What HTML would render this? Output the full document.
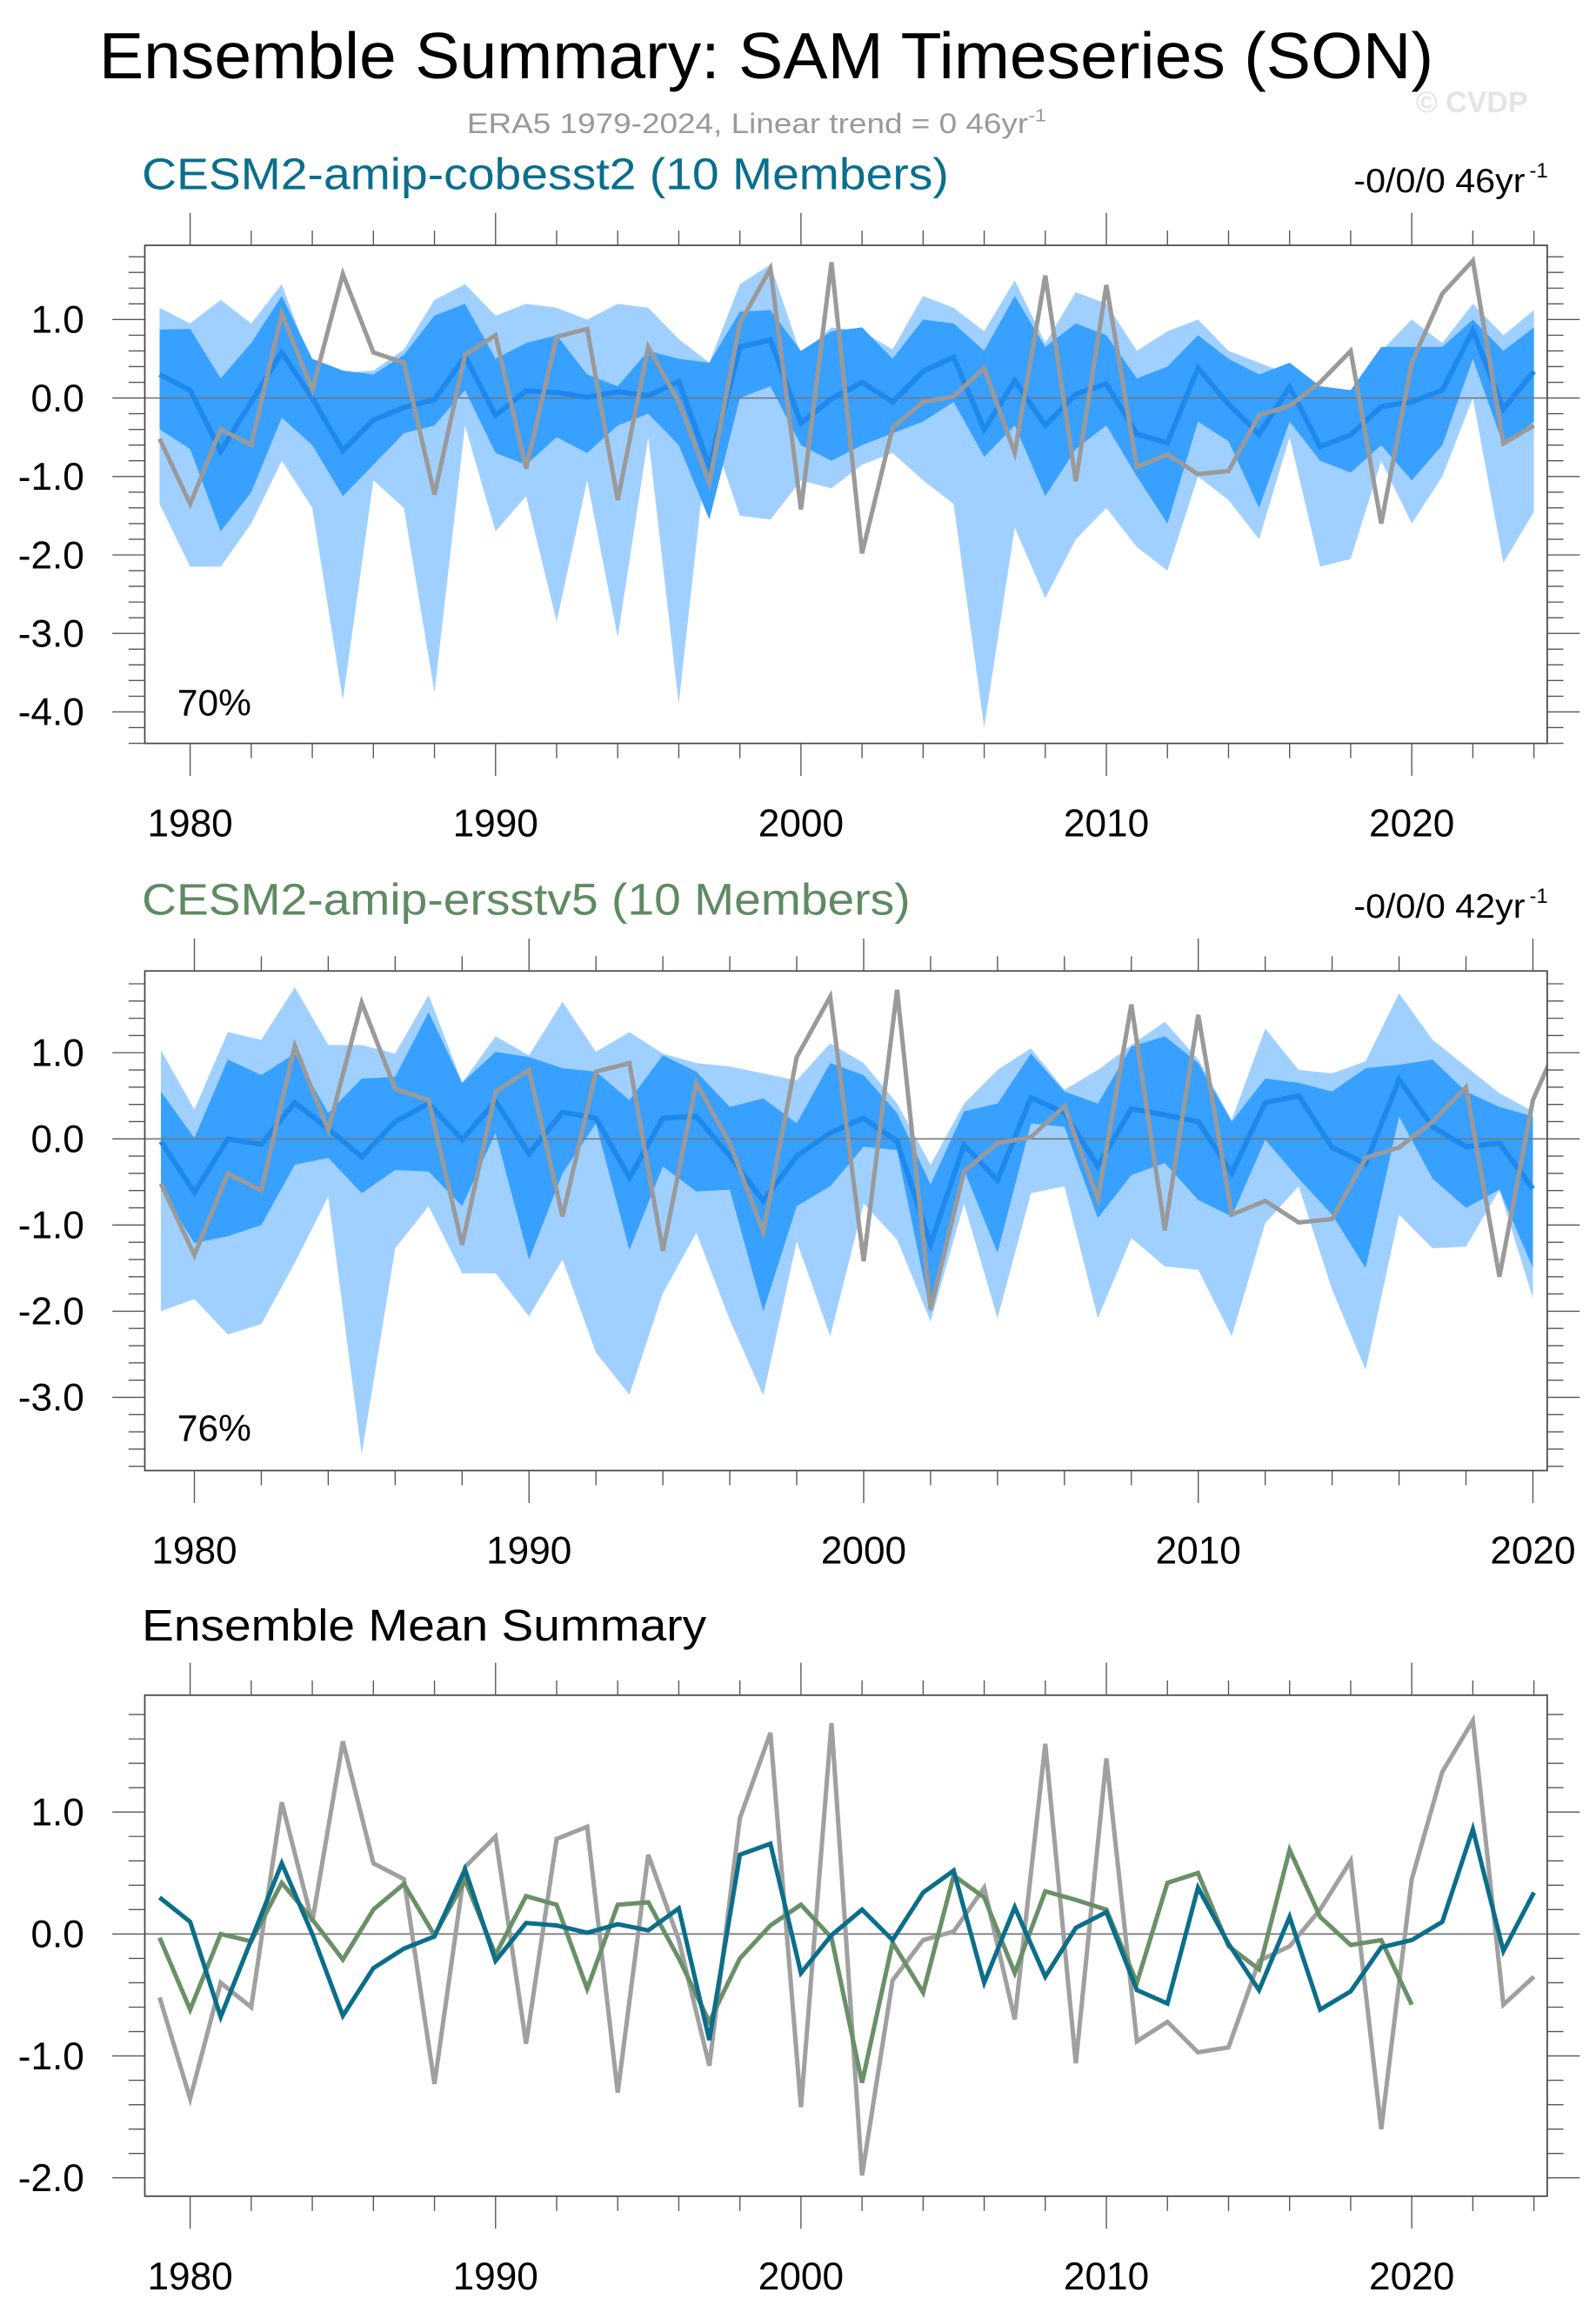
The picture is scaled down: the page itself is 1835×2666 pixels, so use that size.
<!DOCTYPE html>
<html><head><meta charset="utf-8">
<style>
html,body{margin:0;padding:0;background:#fff;}
svg{display:block;}
text{font-family:"Liberation Sans",Arial,sans-serif;}
</style></head>
<body>
<svg id="fig" xmlns="http://www.w3.org/2000/svg" width="1835" height="2666" viewBox="0 0 1080 1569.1" preserveAspectRatio="none">
<text x="67" y="53" font-size="44" textLength="903" lengthAdjust="spacingAndGlyphs">Ensemble Summary: SAM Timeseries (SON)</text>
<text x="316" y="90" font-size="19" fill="#999" textLength="392" lengthAdjust="spacingAndGlyphs">ERA5 1979-2024, Linear trend = 0 46yr<tspan dy="-8" font-size="12">-1</tspan></text>
<text x="958" y="76" font-size="20" font-weight="bold" fill="#e4e4e4">© CVDP</text>
<text x="96" y="128" font-size="30" fill="#0a6e8c" textLength="546" lengthAdjust="spacingAndGlyphs">CESM2-amip-cobesst2 (10 Members)</text>
<text x="916" y="130" font-size="23" textLength="116" lengthAdjust="spacingAndGlyphs">-0/0/0 46yr</text>
<text x="1035" y="120" font-size="14">-1</text>
<text x="96" y="619" font-size="30" fill="#5f8a62" textLength="520" lengthAdjust="spacingAndGlyphs">CESM2-amip-ersstv5 (10 Members)</text>
<text x="916" y="621" font-size="23" textLength="116" lengthAdjust="spacingAndGlyphs">-0/0/0 42yr</text>
<text x="1035" y="611" font-size="14">-1</text>
<text x="96" y="1110" font-size="30" textLength="382" lengthAdjust="spacingAndGlyphs">Ensemble Mean Summary</text>
</svg>
<script>
// ---- data ----
const yearsA = [1979,1980,1981,1982,1983,1984,1985,1986,1987,1988,1989,1990,1991,1992,1993,1994,1995,1996,1997,1998,1999,2000,2001,2002,2003,2004,2005,2006,2007,2008,2009,2010,2011,2012,2013,2014,2015,2016,2017,2018,2019,2020,2021,2022,2023,2024];
const yearsB = yearsA.slice(0,42);
const era5 = [-0.52,-1.35,-0.4,-0.6,1.08,0.1,1.58,0.58,0.45,-1.23,0.55,0.8,-0.9,0.78,0.88,-1.3,0.65,-0.05,-1.08,0.95,1.65,-1.42,1.73,-1.98,-0.38,-0.05,0.02,0.38,-0.7,1.56,-1.06,1.44,-0.88,-0.72,-0.97,-0.93,-0.22,-0.1,0.2,0.6,-1.6,0.45,1.33,1.75,-0.58,-0.35];
const meanA = [0.3,0.1,-0.68,-0.05,0.58,0.0,-0.67,-0.28,-0.12,-0.02,0.53,-0.22,0.09,0.07,0.01,0.08,0.03,0.21,-0.87,0.65,0.74,-0.32,-0.01,0.2,-0.05,0.34,0.52,-0.4,0.22,-0.35,0.05,0.18,-0.46,-0.57,0.38,-0.08,-0.46,0.14,-0.62,-0.47,-0.11,-0.05,0.1,0.86,-0.14,0.34];
const meanB = [-0.03,-0.62,0.0,-0.06,0.42,0.12,-0.21,0.2,0.41,-0.01,0.44,-0.17,0.31,0.24,-0.45,0.24,0.26,-0.2,-0.72,-0.2,0.07,0.24,-0.03,-1.22,-0.07,-0.48,0.48,0.3,-0.32,0.35,0.28,0.2,-0.4,0.42,0.5,-0.1,-0.29,0.69,0.14,-0.09,-0.05,-0.58];
const maxA = [1.15,0.95,1.25,0.95,1.45,0.4,0.32,0.35,0.62,1.25,1.45,1.05,1.2,1.15,1.0,1.2,1.15,0.75,0.45,1.45,1.7,0.55,0.9,0.85,0.62,1.3,1.15,0.85,1.5,0.7,1.35,1.2,0.6,0.85,1.0,0.6,0.45,0.3,0.15,0.0,0.6,1.0,0.7,1.2,0.8,1.12];
const hiA = [0.87,0.88,0.25,0.7,1.3,0.5,0.35,0.3,0.55,1.05,1.2,0.5,0.7,0.8,0.3,0.15,0.6,0.5,0.45,1.1,1.12,0.6,0.85,0.9,0.5,1.0,0.95,0.6,1.3,0.65,0.95,0.8,0.25,0.4,0.8,0.5,0.3,0.45,0.15,0.1,0.65,0.65,0.65,1.0,0.6,0.9];
const loA = [-0.4,-0.65,-1.7,-1.2,-0.25,-0.6,-1.25,-0.85,-0.45,-0.35,0.1,-0.7,-0.85,-0.5,-0.7,-0.35,-0.2,-0.6,-1.55,0.0,0.15,-0.6,-0.8,-0.6,-0.45,-0.3,-0.05,-0.75,-0.35,-1.25,-0.65,-0.35,-1.0,-1.6,-0.3,-0.55,-1.4,-0.3,-0.8,-0.95,-0.6,-1.05,-0.6,0.5,-0.6,-0.3];
const minA = [-1.35,-2.15,-2.15,-1.6,-0.8,-1.4,-3.85,-1.05,-1.4,-3.75,-0.35,-1.7,-1.25,-2.85,-1.05,-3.05,-0.5,-3.9,-0.35,-1.5,-1.55,-1.05,-1.15,-0.85,-0.7,-1.05,-1.35,-4.2,-1.65,-2.55,-1.8,-1.4,-1.9,-2.2,-1.0,-1.3,-1.8,-0.5,-2.15,-2.05,-0.8,-1.6,-1.0,0.0,-2.1,-1.45];
const maxB = [1.03,0.34,1.24,1.15,1.76,1.09,1.09,0.99,1.67,0.65,1.19,0.97,1.59,1.01,1.24,0.99,0.88,0.84,0.76,0.68,1.11,0.88,0.41,-0.3,0.41,0.8,1.05,0.57,0.8,1.09,1.36,0.92,0.22,1.28,0.8,0.76,0.9,1.69,1.15,0.84,0.53,0.32];
const hiB = [0.55,0.01,0.92,0.74,0.99,0.3,0.7,0.72,1.47,0.65,1.01,0.95,0.82,0.78,0.45,0.97,0.78,0.37,0.47,0.18,0.88,0.74,0.3,-0.53,0.32,0.41,0.99,0.55,0.41,1.07,1.19,0.88,0.2,0.7,0.65,0.55,0.82,0.86,0.92,0.55,0.37,0.26];
const loB = [-0.59,-1.21,-1.13,-1.0,-0.3,-0.22,-0.63,-0.36,-0.38,-0.78,0.07,-1.4,-0.4,0.18,-1.29,-0.32,-0.61,-0.59,-2.0,-0.78,-0.55,-0.09,-0.13,-2.02,-0.36,-1.32,0.18,0.14,-0.92,-0.42,-0.28,-0.71,-0.9,-0.01,-0.46,-0.88,-1.5,0.26,-0.46,-0.8,-0.59,-1.5];
const minB = [-2.0,-1.86,-2.27,-2.15,-1.44,-0.67,-3.66,-1.27,-0.78,-1.56,-1.56,-2.06,-1.4,-2.48,-2.97,-1.79,-1.09,-2.1,-2.98,-1.19,-2.29,-0.75,-1.17,-2.12,-0.75,-2.08,-0.63,-0.55,-2.08,-1.15,-1.48,-1.52,-2.29,-0.98,-0.55,-1.75,-2.68,-0.88,-1.27,-1.25,-0.59,-1.85];
const xTicks = [1980,1990,2000,2010,2020];
const yTicks1 = [1,0,-1,-2,-3,-4];
const yTicks2 = [1,0,-1,-2,-3];
const yTicks3 = [1,0,-1,-2];

const NS = "http://www.w3.org/2000/svg";
const svg = document.getElementById('fig');
function mk(tag, attrs, parent){
  const e = document.createElementNS(NS, tag);
  for (const k in attrs) e.setAttribute(k, attrs[k]);
  (parent||svg).appendChild(e);
  return e;
}
function panel(cfg){
  const g = mk('g', {});
  
  
  const xs = y => cfg.x0 + (y - cfg.y0yr) * (cfg.x1 - cfg.x0) / (cfg.y1yr - cfg.y0yr);
  const ys = v => cfg.zero - v * cfg.unit;
  const cid = 'clip-' + cfg.name;
  const cp = mk('clipPath', {id: cid}, g);
  mk('rect', {x: cfg.L, y: cfg.T, width: cfg.R - cfg.L, height: cfg.B - cfg.T}, cp);
  const inner = mk('g', {'clip-path': 'url(#' + cid + ')'}, g);
  function band(yrs, up, lo, color, name){
    let d = '';
    yrs.forEach((y,i)=>{ d += (i?'L':'M') + xs(y).toFixed(2) + ' ' + ys(up[i]).toFixed(2); });
    for (let i = yrs.length-1; i >= 0; i--) d += 'L' + xs(yrs[i]).toFixed(2) + ' ' + ys(lo[i]).toFixed(2);
    const p = mk('path', {d: d + 'Z', fill: color}, inner);
    
    
  }
  function line(yrs, vals, color, w, name){
    const pts = yrs.map((y,i)=> xs(y).toFixed(2) + ',' + ys(vals[i]).toFixed(2)).join(' ');
    const p = mk('polyline', {points: pts, fill: 'none', stroke: color, 'stroke-width': w, 'stroke-linejoin': 'miter'}, inner);
    
    
  }
  (cfg.bands||[]).forEach(b => band(cfg.yrs, b[0], b[1], b[2], b[3]));
  const zl = mk('line', {x1: cfg.L, x2: cfg.R, y1: ys(0), y2: ys(0), stroke: '#777', 'stroke-width': 1}, inner);
  
  
  (cfg.lines||[]).forEach(l => line(l[0], l[1], l[2], l[3], l[4]));
  const box = mk('rect', {x: cfg.L, y: cfg.T, width: cfg.R - cfg.L, height: cfg.B - cfg.T, fill: 'none', stroke: '#444', 'stroke-width': 1}, g);
  
  
  for (let yr = 1980; yr <= cfg.tickMax; yr += 2) {
    const x = xs(yr);
    if (x > cfg.R + 1) continue;
    const major = yr % 10 === 0;
    const len = major ? 22 : 10;
    mk('line', {x1: x, x2: x, y1: cfg.T, y2: cfg.T - len, stroke: '#555', 'stroke-width': 0.8}, g);
    mk('line', {x1: x, x2: x, y1: cfg.B, y2: cfg.B + len, stroke: '#555', 'stroke-width': 0.8}, g);
  }
  xTicks.forEach(yr => {
    const t = mk('text', {x: xs(yr), y: cfg.B + 63, 'font-size': 26, 'text-anchor': 'middle'}, g);
    t.textContent = String(yr);
    
    
  });
  const vmax = (cfg.zero - cfg.T) / cfg.unit, vmin = (cfg.zero - cfg.B) / cfg.unit;
  for (let k = Math.ceil(vmin*5); k <= Math.floor(vmax*5); k++) {
    const y = ys(k/5);
    const major = k % 5 === 0;
    const len = major ? 22 : 11;
    mk('line', {x1: cfg.L, x2: cfg.L - len, y1: y, y2: y, stroke: '#555', 'stroke-width': 0.8}, g);
    mk('line', {x1: cfg.R, x2: cfg.R + len, y1: y, y2: y, stroke: '#555', 'stroke-width': 0.8}, g);
  }
  cfg.yTicks.forEach(v => {
    const t = mk('text', {x: 57, y: ys(v) + 9, 'font-size': 26, 'text-anchor': 'end'}, g);
    t.textContent = v.toFixed(1);
    
    
  });
  if (cfg.pct) {
    const t = mk('text', {x: 120, y: cfg.pctY, 'font-size': 25}, g);
    t.textContent = cfg.pct;
    
    
  }
}
panel({name:'panel-cobesst2', L:98, R:1047, T:166, B:503, x0:108, x1:1038, y0yr:1979, y1yr:2024,
  zero:269.3, unit:53.1, yrs:yearsA, tickMax:2024, yTicks:yTicks1, pct:'70%', pctY:484,
  bands:[[maxA,minA,'#a0d0ff','band-minmax'],[hiA,loA,'#38a0ff','band-spread']],
  lines:[[yearsA,meanA,'#1e88ec',3.5,'ensemble-mean-line'],[yearsA,era5,'#9a9a9a',3,'era5-line']]});
panel({name:'panel-ersstv5', L:98, R:1047, T:657, B:995, x0:108.9, x1:1037.3, y0yr:1979, y1yr:2020,
  zero:770.6, unit:58.3, yrs:yearsB, tickMax:2020, yTicks:yTicks2, pct:'76%', pctY:975,
  bands:[[maxB,minB,'#a0d0ff','band-minmax'],[hiB,loB,'#38a0ff','band-spread']],
  lines:[[yearsB,meanB,'#1e88ec',3.5,'ensemble-mean-line'],[yearsA,era5,'#9a9a9a',3,'era5-line']]});
panel({name:'panel-mean-summary', L:98, R:1047, T:1147, B:1486, x0:108, x1:1038, y0yr:1979, y1yr:2024,
  zero:1308.6, unit:82.5, yrs:yearsA, tickMax:2024, yTicks:yTicks3,
  lines:[[yearsA,era5,'#a0a0a0',3,'era5-line'],[yearsB,meanB,'#6a9068',3,'ersstv5-mean-line'],[yearsA,meanA,'#0b6e8a',3,'cobesst2-mean-line']]});
</script>
</body></html>
